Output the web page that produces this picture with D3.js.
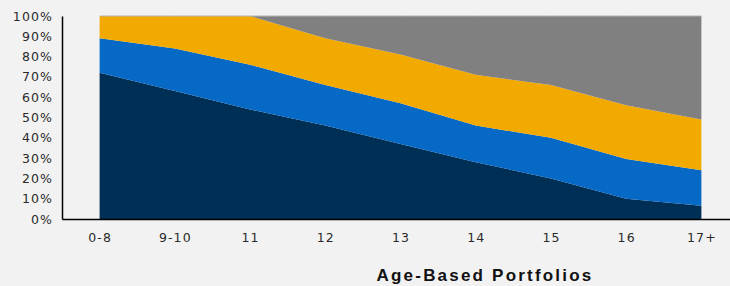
<!DOCTYPE html>
<html>
<head>
<meta charset="utf-8">
<script src="https://cdn.jsdelivr.net/npm/d3@7"></script>
<style>
  body { margin: 0; background: #f2f2f2; }
  svg { display: block; }
  .tick text { font-family: "DejaVu Sans", sans-serif; font-size: 12.5px; letter-spacing: 1.1px; fill: #2a2a2a; }
  .axis-title { font-family: "Liberation Sans", Arial, sans-serif; font-size: 17px; font-weight: bold; letter-spacing: 2.2px; fill: #111; }
</style>
</head>
<body>
<svg id="chart"></svg>
<script>
// categories and stacked shares (%)
const ages = ["0-8", "9-10", "11", "12", "13", "14", "15", "16", "17+"];
const seriesKeys = ["navy", "blue", "orange", "gray"];
const navy   = [72, 63, 54, 46, 37, 28, 20, 10, 6.5];
const blue   = [17, 21, 22, 20, 20, 18, 20, 19.5, 17.5];
const orange = [11, 16, 24, 23, 24, 25, 26, 26.5, 25];
const gray   = [0, 0, 0, 11, 19, 29, 34, 44, 51];
const yTicks = [0, 10, 20, 30, 40, 50, 60, 70, 80, 90, 100];

function drawChart() {
    var wtot = 730,
        htot = 286;
    var margin = { top: 16, right: -9, bottom: 67, left: 62 };

    const data = ages.map((a, i) => ({ age: a, navy: navy[i], blue: blue[i], orange: orange[i], gray: gray[i] }));
    const stack = d3.stack().keys(seriesKeys)(data);

    const xScale = d3.scalePoint(ages, [margin.left, wtot - margin.right]).padding(0.5);
    const yScale = d3.scaleLinear([0, 100], [htot - margin.bottom, margin.top]);

    const colors = { navy: "#002f56", blue: "#0669c6", orange: "#f2a900", gray: "#808080" };

    const svg = d3.select("#chart")
        .attr("width", wtot)
        .attr("height", htot);

    const area = d3.area()
        .x(d => xScale(d.data.age))
        .y0(d => yScale(d[0]))
        .y1(d => yScale(d[1]));

    svg.append("g")
        .selectAll("path")
        .data(stack)
        .join("path")
        .attr("fill", d => colors[d.key])
        .attr("d", area);

    // thin line along the top of the stack
    svg.append("path")
        .attr("fill", "none")
        .attr("stroke", "#b5b5b5")
        .attr("stroke-width", 1)
        .attr("d", d3.line().x(d => xScale(d.data.age)).y(d => yScale(d[1]))(stack[3]));

    // y axis
    svg.append("g")
        .attr("transform", `translate(${margin.left},0)`)
        .call(d3.axisLeft(yScale).tickValues(yTicks).tickSize(0).tickPadding(9).tickFormat(d => d + "%"))
        .call(g => g.select(".domain").attr("stroke", "#000").attr("stroke-width", 1.5));

    // x axis
    svg.append("g")
        .attr("transform", `translate(0,${htot - margin.bottom})`)
        .call(d3.axisBottom(xScale).tickSize(0).tickPadding(14))
        .call(g => g.select(".domain").attr("stroke", "#000").attr("stroke-width", 1.5));

    svg.append("text")
        .attr("class", "axis-title")
        .attr("x", 485)
        .attr("y", 281)
        .attr("text-anchor", "middle")
        .text("Age-Based Portfolios");
}

drawChart();
</script>
</body>
</html>
